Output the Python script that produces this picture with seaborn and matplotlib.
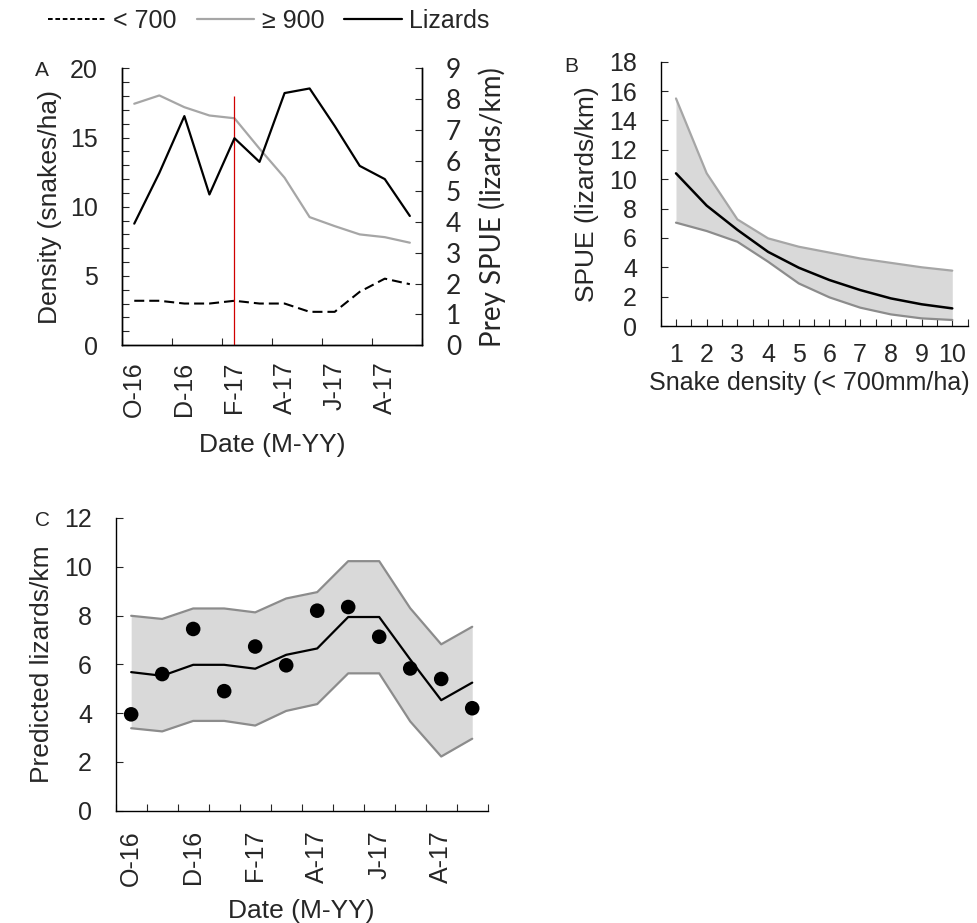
import numpy as np
import matplotlib
matplotlib.use("Agg")
import matplotlib.pyplot as plt
from matplotlib.lines import Line2D
from matplotlib.ticker import FixedLocator, MultipleLocator
import seaborn as sns

# Monthly survey dates (Oct 2016 - Sep 2017)
months = ["O-16", "N-16", "D-16", "J-17", "F-17", "M-17",
          "A-17", "M-17", "J-17", "J-17", "A-17", "S-17"]
snakes_lt700 = [3.2, 3.2, 3.0, 3.0, 3.2, 3.0, 3.0, 2.4, 2.4, 3.85, 4.8, 4.4]
snakes_ge900 = [17.45, 18.05, 17.2, 16.6, 16.4, 14.2, 12.1, 9.25, 8.6, 8.0, 7.8, 7.4]
lizards = [3.95, 5.6, 7.45, 4.9, 6.73, 5.96, 8.2, 8.35, 7.13, 5.83, 5.4, 4.2]
removal_month = 4  # F-17, red marker line
removal_top = 18

# Panel B: SPUE vs snake density
density = [1, 2, 3, 4, 5, 6, 7, 8, 9, 10]
b_mean = [10.4, 8.2, 6.55, 5.05, 3.97, 3.13, 2.45, 1.88, 1.48, 1.2]
b_upper = [15.5, 10.4, 7.26, 5.97, 5.4, 5.0, 4.6, 4.3, 4.0, 3.77]
b_lower = [7.04, 6.47, 5.74, 4.38, 2.9, 1.95, 1.25, 0.79, 0.52, 0.41]

# Panel C: predicted lizards/km
c_pred = [5.68, 5.53, 5.98, 5.98, 5.82, 6.39, 6.65, 7.94, 7.94, 6.2, 4.53, 5.25]
c_upper = [7.99, 7.86, 8.29, 8.29, 8.13, 8.7, 8.96, 10.23, 10.23, 8.3, 6.82, 7.54]
c_lower = [3.38, 3.25, 3.68, 3.68, 3.49, 4.09, 4.37, 5.63, 5.63, 3.66, 2.22, 2.95]

sns.set_style("ticks")
plt.rcParams["font.family"] = ["Liberation Sans", "DejaVu Sans"]

TICK_FS = 18
LAB_FS = 19
pos = np.arange(len(months))

fig = plt.figure(figsize=(9.77, 9.23), dpi=100)
axA = fig.add_axes([0.1246, 0.6262, 0.3077, 0.2996])
axA2 = axA.twinx()
axB = fig.add_axes([0.6762, 0.6468, 0.3142, 0.2863])
axC = fig.add_axes([0.1184, 0.1217, 0.3808, 0.3171])

# ---- Panel A
sns.lineplot(x=pos, y=snakes_lt700, ax=axA, color="black", lw=1.5, sort=False)
axA.lines[-1].set_dashes((4.8, 2.4))
sns.lineplot(x=pos, y=snakes_ge900, ax=axA, color="#a6a6a6", lw=1.6, sort=False)
axA.vlines(removal_month, 0, removal_top, color="#d00000", lw=0.9, zorder=5)
sns.lineplot(x=pos, y=lizards, ax=axA2, color="black", lw=1.6, sort=False)

axA.set_xlim(-0.5, len(months) - 0.5)
axA.set_ylim(0, 20)
axA2.set_ylim(0, 9)
axA.set_xticks(pos[::2])
axA.set_xticklabels(months[::2], rotation=90, fontsize=TICK_FS)
axA.xaxis.set_minor_locator(FixedLocator(np.arange(-0.5, len(months), 2)))
axA.yaxis.set_major_locator(MultipleLocator(5))
axA.yaxis.set_minor_locator(MultipleLocator(1))
axA2.yaxis.set_major_locator(MultipleLocator(1))
axA.tick_params(axis="x", which="major", length=0, pad=12)
axA.tick_params(axis="x", which="minor", direction="in", length=5, width=0.8)
axA.tick_params(axis="y", which="both", direction="in", length=5, width=0.8,
                pad=17, labelsize=TICK_FS)
axA2.tick_params(axis="y", direction="in", length=5, width=0.8, pad=17)
for lab in axA2.get_yticklabels():
    lab.set_fontfamily(["Lato", "DejaVu Sans"])
    lab.set_fontsize(TICK_FS + 1)
axA.set_xlabel("Date (M-YY)", fontsize=LAB_FS)
axA.xaxis.set_label_coords(0.5, -0.318)
axA.set_ylabel("Density (snakes/ha)", fontsize=LAB_FS)
axA.yaxis.set_label_coords(-0.2, 0.5)
axA2.set_ylabel("Prey SPUE (lizards/km)", fontsize=LAB_FS + 1,
                family=["Lato", "DejaVu Sans"])
axA2.yaxis.set_label_coords(1.185, 0.5)
axA.spines["top"].set_visible(False)
axA2.spines["top"].set_visible(False)
for ax in (axA, axA2):
    for s in ax.spines.values():
        s.set_color("black")
        s.set_linewidth(1.0)

# ---- Panel B
axB.fill_between(density, b_lower, b_upper, color="#d9d9d9", lw=0)
sns.lineplot(x=density, y=b_upper, ax=axB, color="#a6a6a6", lw=1.6)
sns.lineplot(x=density, y=b_lower, ax=axB, color="#8c8c8c", lw=1.6)
sns.lineplot(x=density, y=b_mean, ax=axB, color="black", lw=1.8)
axB.set_xlim(0.5, 10.5)
axB.set_ylim(0, 18)
axB.set_xticks(density)
axB.xaxis.set_minor_locator(FixedLocator(np.arange(0.5, 11, 1)))
axB.yaxis.set_major_locator(MultipleLocator(2))
axB.tick_params(axis="x", which="both", direction="in", length=5, width=0.8,
                pad=12, labelsize=TICK_FS)
axB.tick_params(axis="y", direction="in", length=5, width=0.8, pad=17,
                labelsize=TICK_FS)
axB.set_xlabel("Snake density (< 700mm/ha)", fontsize=18)
axB.xaxis.set_label_coords(0.485, -0.172)
axB.set_ylabel("SPUE (lizards/km)", fontsize=LAB_FS)
axB.yaxis.set_label_coords(-0.2, 0.5)
sns.despine(ax=axB)

# ---- Panel C
axC.fill_between(pos, c_lower, c_upper, color="#d9d9d9", lw=0)
sns.lineplot(x=pos, y=c_upper, ax=axC, color="#8c8c8c", lw=1.6)
sns.lineplot(x=pos, y=c_lower, ax=axC, color="#8c8c8c", lw=1.6)
sns.lineplot(x=pos, y=c_pred, ax=axC, color="black", lw=1.6)
sns.scatterplot(x=pos, y=lizards, ax=axC, color="black", s=110,
                edgecolor="none", zorder=5)
axC.set_xlim(-0.5, len(months) - 0.5)
axC.set_ylim(0, 12)
axC.set_xticks(pos[::2])
axC.set_xticklabels(months[::2], rotation=90, fontsize=TICK_FS)
axC.xaxis.set_minor_locator(FixedLocator(np.arange(-0.5, len(months), 1)))
axC.yaxis.set_major_locator(MultipleLocator(2))
axC.tick_params(axis="x", which="major", length=0, pad=14)
axC.tick_params(axis="x", which="minor", direction="in", length=5, width=0.8)
axC.tick_params(axis="y", direction="in", length=5, width=0.8, pad=17,
                labelsize=TICK_FS)
axC.set_xlabel("Date (M-YY)", fontsize=LAB_FS)
axC.xaxis.set_label_coords(0.5, -0.301)
axC.set_ylabel("Predicted lizards/km", fontsize=LAB_FS)
axC.yaxis.set_label_coords(-0.166, 0.5)
sns.despine(ax=axC)

for ax in (axB, axC):
    for s in ax.spines.values():
        s.set_color("black")
        s.set_linewidth(1.0)

# panel letters
fig.text(41.7 / 977, 1 - 70 / 923, "A", fontsize=15, ha="center", va="center")
fig.text(571.7 / 977, 1 - 67 / 923, "B", fontsize=15, ha="center", va="center")
fig.text(42 / 977, 1 - 520 / 923, "C", fontsize=15, ha="center", va="center")

# legend across the top
handles = [
    Line2D([], [], color="black", lw=1.4, dashes=(2.4, 1.4)),
    Line2D([], [], color="#a6a6a6", lw=1.6),
    Line2D([], [], color="black", lw=1.6),
]
fig.legend(handles, ["< 700", "≥ 900", "Lizards"], loc="center left",
           bbox_to_anchor=(48 / 977, 1 - 21 / 923), ncol=3, frameon=False,
           fontsize=18, handlelength=2.3, handletextpad=0.3,
           columnspacing=0.8, borderpad=0, borderaxespad=0)

fig.savefig("out.png", dpi=100)
